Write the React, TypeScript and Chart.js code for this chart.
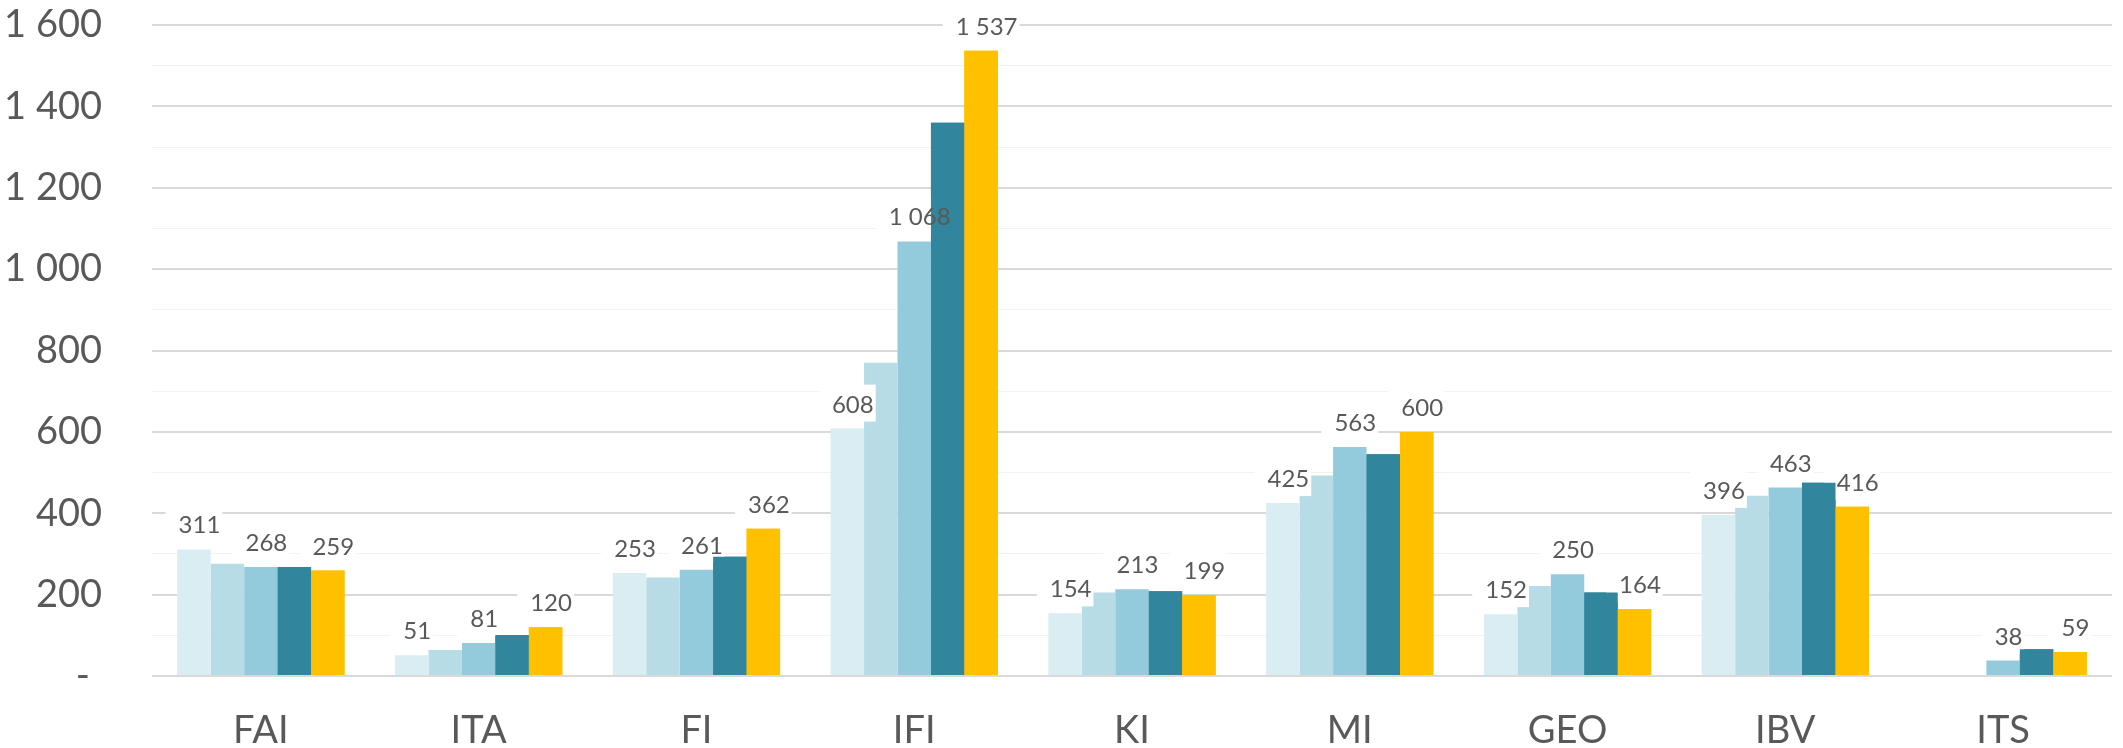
import React, { useEffect, useRef } from "react";
import { Chart, registerables } from "chart.js";

Chart.register(...registerables);

const categories = ["FAI", "ITA", "FI", "IFI", "KI", "MI", "GEO", "IBV", "ITS"];
const series1 = [311, 51, 253, 608, 154, 425, 152, 396, null];
const series2 = [276, 64, 242, 770, 205, 493, 221, 443, null];
const series3 = [268, 81, 261, 1068, 213, 563, 250, 463, 38];
const series4 = [268, 101, 293, 1360, 208, 545, 205, 475, 66];
const series5 = [259, 120, 362, 1537, 199, 600, 164, 416, 59];
const seriesNames = ["Serie 1", "Serie 2", "Serie 3", "Serie 4", "Serie 5"];
const seriesColors = ["#DAEDF3", "#B7DCE6", "#93CBDC", "#31859C", "#FFC000"];
const labeledSeries = [0, 2, 4];
const yTickMax = 1600;
const yTickStep = 100;

const FONT = "Lato, 'Open Sans', sans-serif";
const TEXT_COLOR = "#595959";

function fmt(v: number): string {
  return String(Math.round(v)).replace(/\B(?=(\d{3})+(?!\d))/g, " ");
}

const labelPlugin = {
  id: "excelLabels",
  afterDatasetsDraw(chart: any) {
    const ctx = chart.ctx as CanvasRenderingContext2D;
    ctx.save();
    ctx.font = `24px ${FONT}`;
    const items: { text: string; left: number; baseline: number; w: number }[] = [];
    labeledSeries.forEach((di) => {
      const meta = chart.getDatasetMeta(di);
      meta.data.forEach((el: any, i: number) => {
        const v = chart.data.datasets[di].data[i];
        if (v == null) return;
        const text = fmt(v);
        const w = ctx.measureText(text).width;
        const baseline = el.y - 16;
        const left = el.x - (w + 15) / 2;
        items.push({ text, left, baseline, w });
      });
    });
    ctx.fillStyle = "#ffffff";
    items.forEach((it) => {
      ctx.fillRect(it.left, it.baseline - 28, it.w + 15, 37);
    });
    // later series are drawn over the label boxes
    [3, 4].forEach((di) => {
      const meta = chart.getDatasetMeta(di);
      meta.data.forEach((el: any) => el.draw(ctx));
    });
    ctx.fillStyle = TEXT_COLOR;
    ctx.textAlign = "left";
    ctx.textBaseline = "alphabetic";
    items.forEach((it) => {
      ctx.fillText(it.text, it.left + 13, it.baseline);
    });
    ctx.restore();
  },
};

export default function App() {
  const ref = useRef<HTMLCanvasElement | null>(null);
  useEffect(() => {
    if (!ref.current) return;
    const data = [series1, series2, series3, series4, series5];
    const chart = new Chart(ref.current, {
      type: "bar",
      data: {
        labels: categories,
        datasets: data.map((d, i) => ({
          label: seriesNames[i],
          data: d,
          backgroundColor: seriesColors[i],
          borderWidth: 0,
          categoryPercentage: 0.768,
          barPercentage: 1.0,
        })),
      },
      options: {
        responsive: false,
        animation: false,
        devicePixelRatio: 1,
        layout: { padding: { top: 25, right: 11, left: 0, bottom: 0 } },
        plugins: {
          legend: { display: false },
          tooltip: { enabled: false },
          title: { display: false },
        },
        scales: {
          x: {
            grid: { display: false, drawTicks: false },
            border: { display: false },
            ticks: {
              color: TEXT_COLOR,
              font: { family: FONT, size: 38 },
              padding: 32,
              maxRotation: 0,
              autoSkip: false,
            },
            afterFit: (s: any) => {
              s.height = 72;
              s.paddingLeft = 0;
              s.paddingRight = 0;
              s.paddingTop = 0;
              s.paddingBottom = 0;
            },
          },
          y: {
            min: 0,
            max: yTickMax,
            border: { display: false },
            grid: {
              drawTicks: false,
              color: (c: any) => (c.tick && c.tick.value % 200 === 0 ? "#d9d9d9" : "#f2f2f2"),
              lineWidth: (c: any) => (c.tick && c.tick.value % 200 === 0 ? 2 : 1),
            },
            ticks: {
              stepSize: yTickStep,
              autoSkip: false,
              color: TEXT_COLOR,
              font: { family: FONT, size: 38 },
              padding: 50,
              callback: (v: any) => {
                const n = Number(v);
                if (n % 200 !== 0) return "";
                if (n === 0) return "- \u200A";
                return fmt(n);
              },
            },
            afterFit: (s: any) => {
              s.width = 152;
              s.paddingTop = 0;
              s.paddingBottom = 0;
              s.paddingLeft = 0;
              s.paddingRight = 0;
            },
          },
        },
      },
      plugins: [labelPlugin],
    });
    return () => chart.destroy();
  }, []);
  return (
    <div style={{ position: "fixed", left: 0, top: 0, width: 2123, height: 748, background: "#fff" }}>
      <canvas ref={ref} width={2123} height={748} style={{ display: "block" }} />
    </div>
  );
}
